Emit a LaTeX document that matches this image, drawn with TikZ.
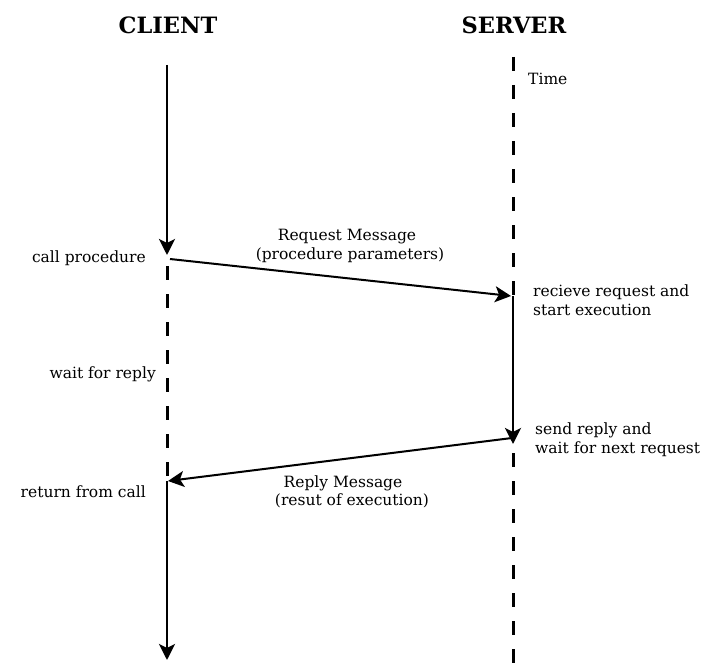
\documentclass[tikz,border=0pt]{standalone}
\usepackage{fontspec}
\setmainfont{DejaVu Serif}
\usetikzlibrary{arrows.meta}
\begin{document}
\begin{tikzpicture}[x=1pt,y=-1pt,
  tip/.tip={Stealth[length=16pt,width=16pt,inset=4pt]},
  life/.style={line width=2.8pt},
  wait/.style={line width=3pt, dash pattern=on 14pt off 14pt},
  msg/.style={line width=2pt},
  lbl/.style={font=\fontsize{15.5}{19}\selectfont, inner sep=0pt, align=left},
  title/.style={font=\fontsize{22.5}{26}\selectfont\bfseries, inner sep=0pt}]
\path[use as bounding box] (0,0) rectangle (711,663);

% time lines
\coordinate (c0) at (167,65);
\coordinate (c1) at (167,255);
\coordinate (c1b) at (167,266);
\coordinate (c2) at (167,481);
\coordinate (c3) at (167,660);
\coordinate (s0) at (513,57);
\coordinate (s1) at (513,296);
\coordinate (s2) at (513,444);
\coordinate (s2b) at (513,453);
\coordinate (s3) at (513,663);

% message end points
\coordinate (rq0) at (170,259);
\coordinate (rq1) at (511,296);
\coordinate (rp0) at (512,438);
\coordinate (rp1) at (168,481);

\node[title] (client) at (168,25) {CLIENT};
\node[title] (server) at (514,25) {SERVER};

% client
\draw[life,-tip] (c0) -- (c1);
\draw[wait] (c1b) -- (c2);
\draw[life,-tip] (c2) -- (c3);

% server
\draw[wait] (s0) -- (s1);
\draw[life,-tip] (s1) -- (s2);
\draw[wait] (s2b) -- (s3);

% messages
\draw[msg,-tip] (rq0) -- (rq1);
\draw[msg,-tip] (rp0) -- (rp1);

% labels
\node[lbl,anchor=west] (time) at (528,79) {Time};
\node[lbl,anchor=east] (call) at (146,258) {call procedure};
\node[lbl,align=center] (req) at (347,237) {Request Message};
\node[lbl,align=center] (reqp) at (350,255) {(procedure parameters)};
\node[lbl,anchor=north west] (recv) at (533,285) {recieve request and\\start execution};
\node[lbl,anchor=east] (wait) at (156,374) {wait for reply};
\node[lbl,anchor=north west] (send) at (535,423) {send reply and\\wait for next request};
\node[lbl,align=center] (rep) at (343,483) {Reply Message};
\node[lbl,align=center] (repp) at (352,501) {(resut of execution)};
\node[lbl,anchor=east] (ret) at (146,492) {return from call};
\end{tikzpicture}
\end{document}
